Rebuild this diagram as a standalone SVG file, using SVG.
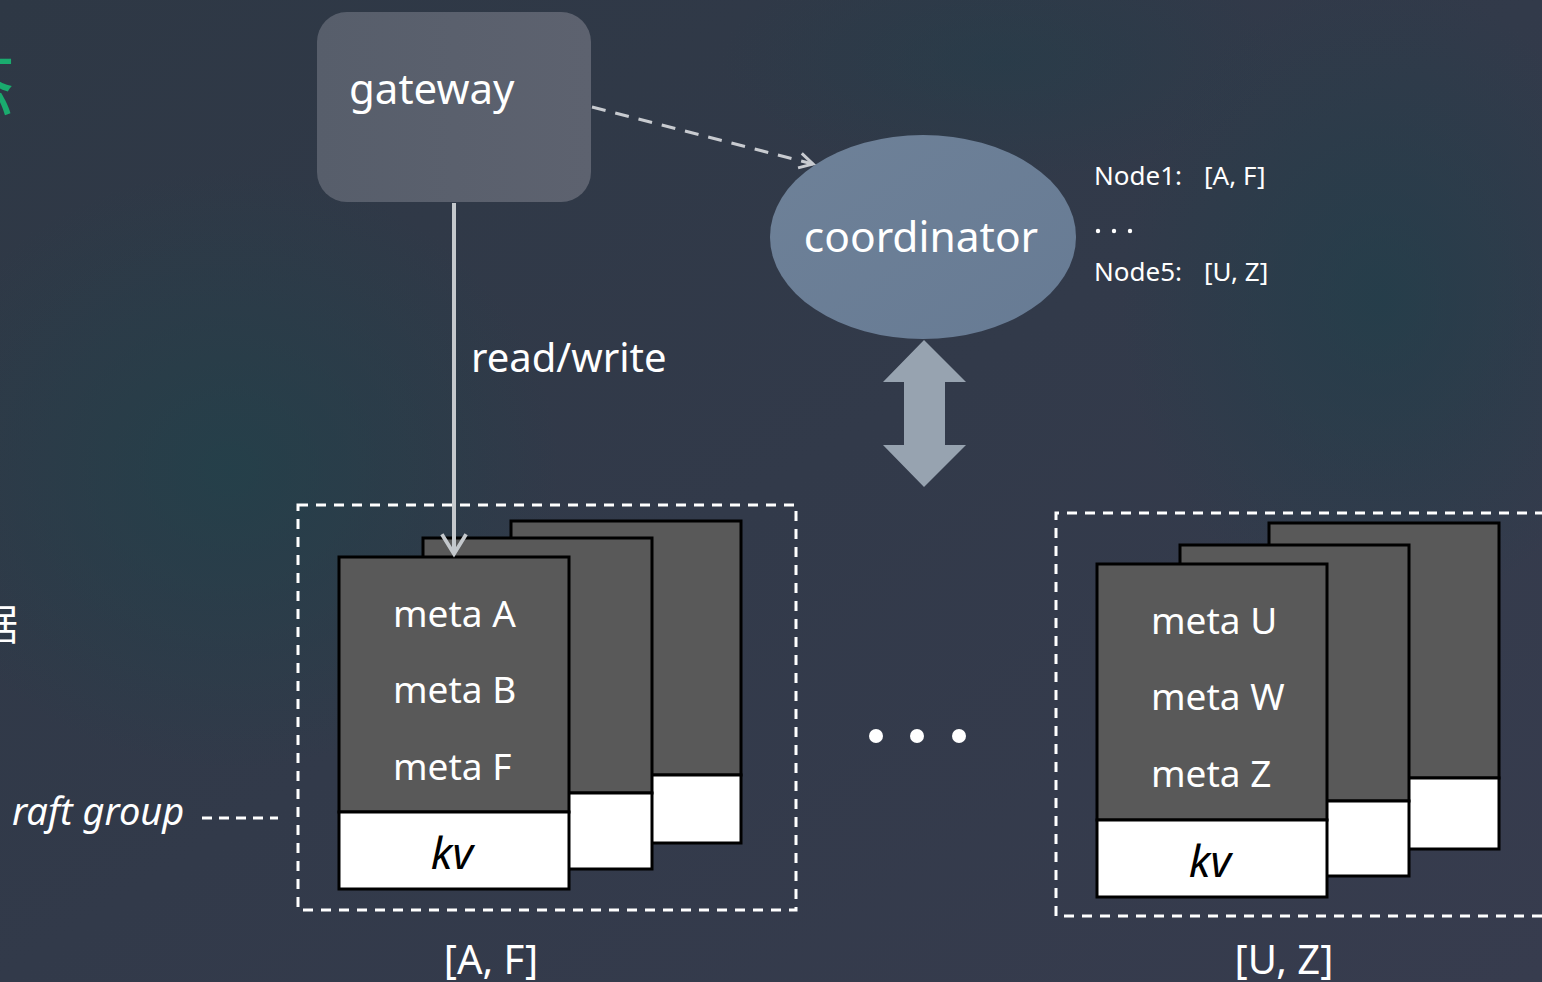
<svg xmlns="http://www.w3.org/2000/svg" width="1542" height="982" viewBox="0 0 1542 982">
  <defs>
    <linearGradient id="bg" x1="0" y1="0" x2="1" y2="1">
      <stop offset="0" stop-color="#2e3845"/>
      <stop offset="0.5" stop-color="#323a4a"/>
      <stop offset="1" stop-color="#373c4e"/>
    </linearGradient>
    <radialGradient id="tealHaze" cx="0.5" cy="0.5" r="0.5">
      <stop offset="0" stop-color="#22414a" stop-opacity="0.8"/>
      <stop offset="1" stop-color="#22414a" stop-opacity="0"/>
    </radialGradient>
    <radialGradient id="tealHaze2" cx="0.5" cy="0.5" r="0.5">
      <stop offset="0" stop-color="#203f4a" stop-opacity="0.7"/>
      <stop offset="1" stop-color="#203f4a" stop-opacity="0"/>
    </radialGradient>
    <linearGradient id="gwFill" x1="0" y1="0" x2="1" y2="0">
      <stop offset="0" stop-color="#575e6b"/>
      <stop offset="1" stop-color="#5d626f"/>
    </linearGradient>
    <linearGradient id="coordFill" x1="0" y1="0" x2="1" y2="1">
      <stop offset="0" stop-color="#6e8198"/>
      <stop offset="1" stop-color="#677b94"/>
    </linearGradient>
    <marker id="chevron" viewBox="0 0 12 12" refX="10" refY="6" markerWidth="6" markerHeight="6" markerUnits="strokeWidth" orient="auto">
      <path d="M1,1 L10,6 L1,11" fill="none" stroke="#c8cbd0" stroke-width="2"/>
    </marker>
    <marker id="chevronV" viewBox="0 0 12 12" refX="10.5" refY="6" markerWidth="7" markerHeight="7" markerUnits="strokeWidth" orient="auto">
      <path d="M2,0.8 L10.5,6 L2,11.2" fill="none" stroke="#c4c8cc" stroke-width="1.6"/>
    </marker>
  </defs>
  <style>
    .t { font-family: "Noto Sans", "Open Sans", "Noto Sans CJK SC", sans-serif; fill: #ffffff; }
    .meta { font-size: 37px; }
    .kv { font-family: "Noto Sans", "Open Sans", sans-serif; font-style: italic; font-size: 44px; fill: #000000; }
    .card-top { fill: #595959; stroke: #000000; stroke-width: 3; }
    .card-bot { fill: #ffffff; stroke: #000000; stroke-width: 3; }
    .group-box { fill: none; stroke: #ffffff; stroke-width: 3; stroke-dasharray: 10 8; }
  </style>

  <!-- backdrop -->
  <rect x="0" y="0" width="1542" height="982" fill="url(#bg)"/>
  <ellipse cx="230" cy="470" rx="330" ry="300" fill="url(#tealHaze)"/>
  <ellipse cx="1380" cy="300" rx="260" ry="320" fill="url(#tealHaze2)"/>
  <ellipse cx="1000" cy="60" rx="280" ry="120" fill="url(#tealHaze2)" opacity="0.6"/>

  <!-- side captions running in from the left edge -->
  <text x="15" y="112" font-size="76" text-anchor="end" fill="#1aab6e" font-family="Noto Sans CJK SC, sans-serif">态</text>
  <text x="18" y="640" font-size="42" text-anchor="end" fill="#ffffff" font-family="Noto Sans CJK SC, sans-serif">据</text>

  <!-- gateway -->
  <g id="gateway">
    <rect x="317" y="12" width="274" height="190" rx="30" fill="url(#gwFill)"/>
    <text class="t" x="349" y="104" font-size="42">gateway</text>
  </g>

  <!-- coordinator -->
  <g id="coordinator">
    <ellipse cx="923" cy="237" rx="153" ry="102" fill="url(#coordFill)"/>
    <text class="t" x="921" y="252" font-size="42.5" text-anchor="middle">coordinator</text>
  </g>

  <!-- routing table -->
  <g id="routing-table">
    <text class="t" x="1094" y="185" font-size="26">Node1:</text>
    <text class="t" x="1204" y="185" font-size="26">[A, F]</text>
    <circle cx="1098" cy="231" r="2.2" fill="#ffffff"/>
    <circle cx="1114" cy="231" r="2.2" fill="#ffffff"/>
    <circle cx="1130" cy="231" r="2.2" fill="#ffffff"/>
    <text class="t" x="1094" y="281" font-size="26">Node5:</text>
    <text class="t" x="1204" y="281" font-size="26">[U, Z]</text>
  </g>

  <!-- raft group A-F -->
  <g id="group-af">
    <rect class="group-box" x="298" y="505" width="498" height="405"/>
    <rect class="card-top" x="511" y="521" width="230" height="254"/>
    <rect class="card-bot" x="511" y="775" width="230" height="68"/>
    <rect class="card-top" x="423" y="538" width="229" height="255"/>
    <rect class="card-bot" x="423" y="793" width="229" height="76"/>
    <rect class="card-top" x="339" y="557" width="230" height="255"/>
    <rect class="card-bot" x="339" y="812" width="230" height="77"/>
    <text class="t meta" x="393" y="627">meta A</text>
    <text class="t meta" x="393" y="703">meta B</text>
    <text class="t meta" x="393" y="780">meta F</text>
    <text class="kv" x="452" y="869" text-anchor="middle">kv</text>
    <text class="t" x="491" y="974" font-size="40" text-anchor="middle">[A, F]</text>
  </g>

  <!-- raft group U-Z -->
  <g id="group-uz">
    <path class="group-box" d="M1545,513 L1056,513 L1056,916 L1545,916"/>
    <rect class="card-top" x="1269" y="523" width="230" height="255"/>
    <rect class="card-bot" x="1269" y="778" width="230" height="71"/>
    <rect class="card-top" x="1180" y="545" width="229" height="256"/>
    <rect class="card-bot" x="1180" y="801" width="229" height="75"/>
    <rect class="card-top" x="1097" y="564" width="230" height="256"/>
    <rect class="card-bot" x="1097" y="820" width="230" height="77"/>
    <text class="t meta" x="1151" y="634">meta U</text>
    <text class="t meta" x="1151" y="710">meta W</text>
    <text class="t meta" x="1151" y="787">meta Z</text>
    <text class="kv" x="1210" y="877" text-anchor="middle">kv</text>
    <text class="t" x="1284" y="974" font-size="40" text-anchor="middle">[U, Z]</text>
  </g>

  <!-- ellipsis between groups -->
  <g id="more-groups" fill="#ffffff">
    <circle cx="876" cy="736" r="7"/>
    <circle cx="917" cy="736" r="7"/>
    <circle cx="959" cy="736" r="7"/>
  </g>

  <!-- raft group label -->
  <g id="raft-label">
    <text class="t" x="12" y="825" font-size="38" font-style="italic">raft group</text>
    <line x1="202" y1="818" x2="278" y2="818" stroke="#ffffff" stroke-width="3" stroke-dasharray="10 7"/>
  </g>

  <!-- connectors -->
  <g id="connectors">
    <line x1="592" y1="107" x2="813" y2="164" stroke="#c8cbd0" stroke-width="3" stroke-dasharray="14 10" marker-end="url(#chevron)"/>
    <line x1="454" y1="203" x2="454" y2="554" stroke="#c4c8cc" stroke-width="4" marker-end="url(#chevronV)"/>
    <text class="t" x="471" y="372" font-size="40">read/write</text>
    <path d="M924,340 L966,382 L945,382 L945,445 L966,445 L924,487 L883,445 L904,445 L904,382 L883,382 Z" fill="#97a3b0"/>
  </g>
</svg>
